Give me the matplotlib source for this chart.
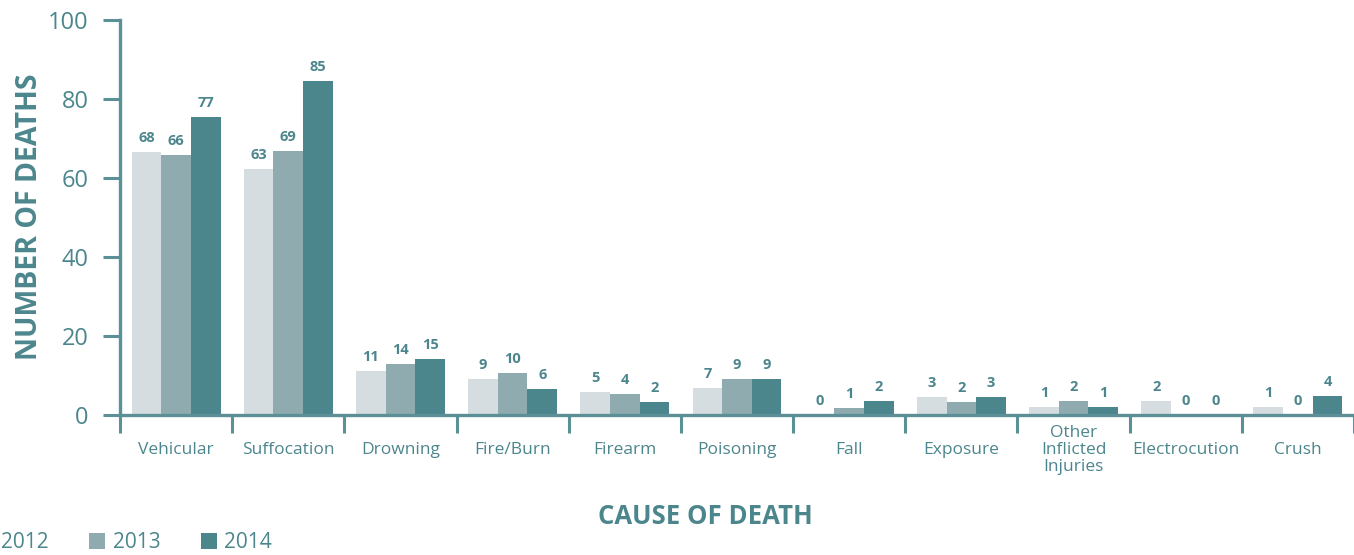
import matplotlib
matplotlib.use("Agg")
import matplotlib.pyplot as plt
import matplotlib.transforms as mtransforms
from matplotlib.patches import Patch
import numpy as np

plt.rcParams['font.family'] = ['Open Sans', 'DejaVu Sans']

categories = ["Vehicular", "Suffocation", "Drowning", "Fire/Burn", "Firearm",
              "Poisoning", "Fall", "Exposure", "Other\nInflicted\nInjuries",
              "Electrocution", "Crush"]
years = ["2012", "2013", "2014"]

# printed values
labels_2012 = [68, 63, 11, 9, 5, 7, 0, 3, 1, 2, 1]
labels_2013 = [66, 69, 14, 10, 4, 9, 1, 2, 2, 0, 0]
labels_2014 = [77, 85, 15, 6, 2, 9, 2, 3, 1, 0, 4]
# bar heights as drawn in the source picture
heights_2012 = [66.6, 62.3, 11.1, 9.1, 5.8, 6.8, 0, 4.5, 2.0, 3.6, 2.0]
heights_2013 = [65.8, 66.8, 12.9, 10.6, 5.3, 9.1, 1.8, 3.3, 3.6, 0, 0]
heights_2014 = [75.4, 84.6, 14.2, 6.6, 3.3, 9.1, 3.6, 4.5, 2.0, 0, 4.8]

yticks = [0, 20, 40, 60, 80, 100]

colors = ["#d5dde0", "#8fabb0", "#4c868d"]
teal = "#4c868d"
spine_c = "#5a9096"

W, H = 1354, 555
fig = plt.figure(figsize=(W / 100, H / 100), dpi=100)
ax = fig.add_axes([120 / W, 1 - 415 / H, 1 - 120 / W, 395 / H])

x = np.arange(len(categories))
bw = 0.264
series = [(heights_2012, labels_2012), (heights_2013, labels_2013), (heights_2014, labels_2014)]
for i, (hs, ls) in enumerate(series):
    xs = x + (i - 1) * bw
    ax.bar(xs, hs, width=bw, color=colors[i], linewidth=0, zorder=2)
    for xi, h, lab in zip(xs, hs, ls):
        ax.annotate(str(lab), (xi, h), xytext=(0, 10), textcoords="offset points",
                    ha="center", va="center", fontsize=10.5, fontweight="bold",
                    color=teal)

ax.set_xlim(-0.5, len(categories) - 0.5)
ax.set_ylim(0, 100)
ax.set_yticks(yticks)
ax.set_yticklabels([str(v) for v in yticks])
ax.set_xticks(np.arange(-0.5, len(categories), 1.0))
ax.set_xticklabels([])

for s in ["top", "right"]:
    ax.spines[s].set_visible(False)
for s in ["left", "bottom"]:
    ax.spines[s].set_color(spine_c)
    ax.spines[s].set_linewidth(2.4)
    ax.spines[s].set_zorder(3)

ax.tick_params(axis="y", direction="out", length=12.5, width=2.2, color=spine_c,
               labelsize=17, labelcolor=teal, pad=10)
ax.tick_params(axis="x", direction="out", length=13, width=2.2, color=spine_c)

trans = mtransforms.blended_transform_factory(ax.transData, fig.transFigure)
for xi, c in zip(x, categories):
    ax.text(xi, 1 - 450 / H, c, transform=trans, ha="center", va="center",
            fontsize=12.5, color=teal, linespacing=1.05)

ax.set_ylabel("NUMBER OF DEATHS", fontsize=20.5, fontweight="bold", color=teal)
ax.yaxis.set_label_coords(44 / W, 1 - 217 / H, transform=fig.transFigure)

fig.text(705 / W, 1 - 517 / H, "CAUSE OF DEATH", ha="center", va="center",
         fontsize=18.5, fontweight="bold", color=teal)

handles = [Patch(facecolor=c, edgecolor="none", label=y) for c, y in zip(colors, years)]
leg = fig.legend(handles=handles, loc="center left",
                 bbox_to_anchor=(-22 / W, 1 - 543 / H), ncol=3, frameon=False,
                 fontsize=15, handlelength=0.77, handleheight=0.77,
                 handletextpad=0.34, columnspacing=1.95, borderpad=0,
                 borderaxespad=0)
for t in leg.get_texts():
    t.set_color(teal)

fig.savefig("out.png", dpi=100)
